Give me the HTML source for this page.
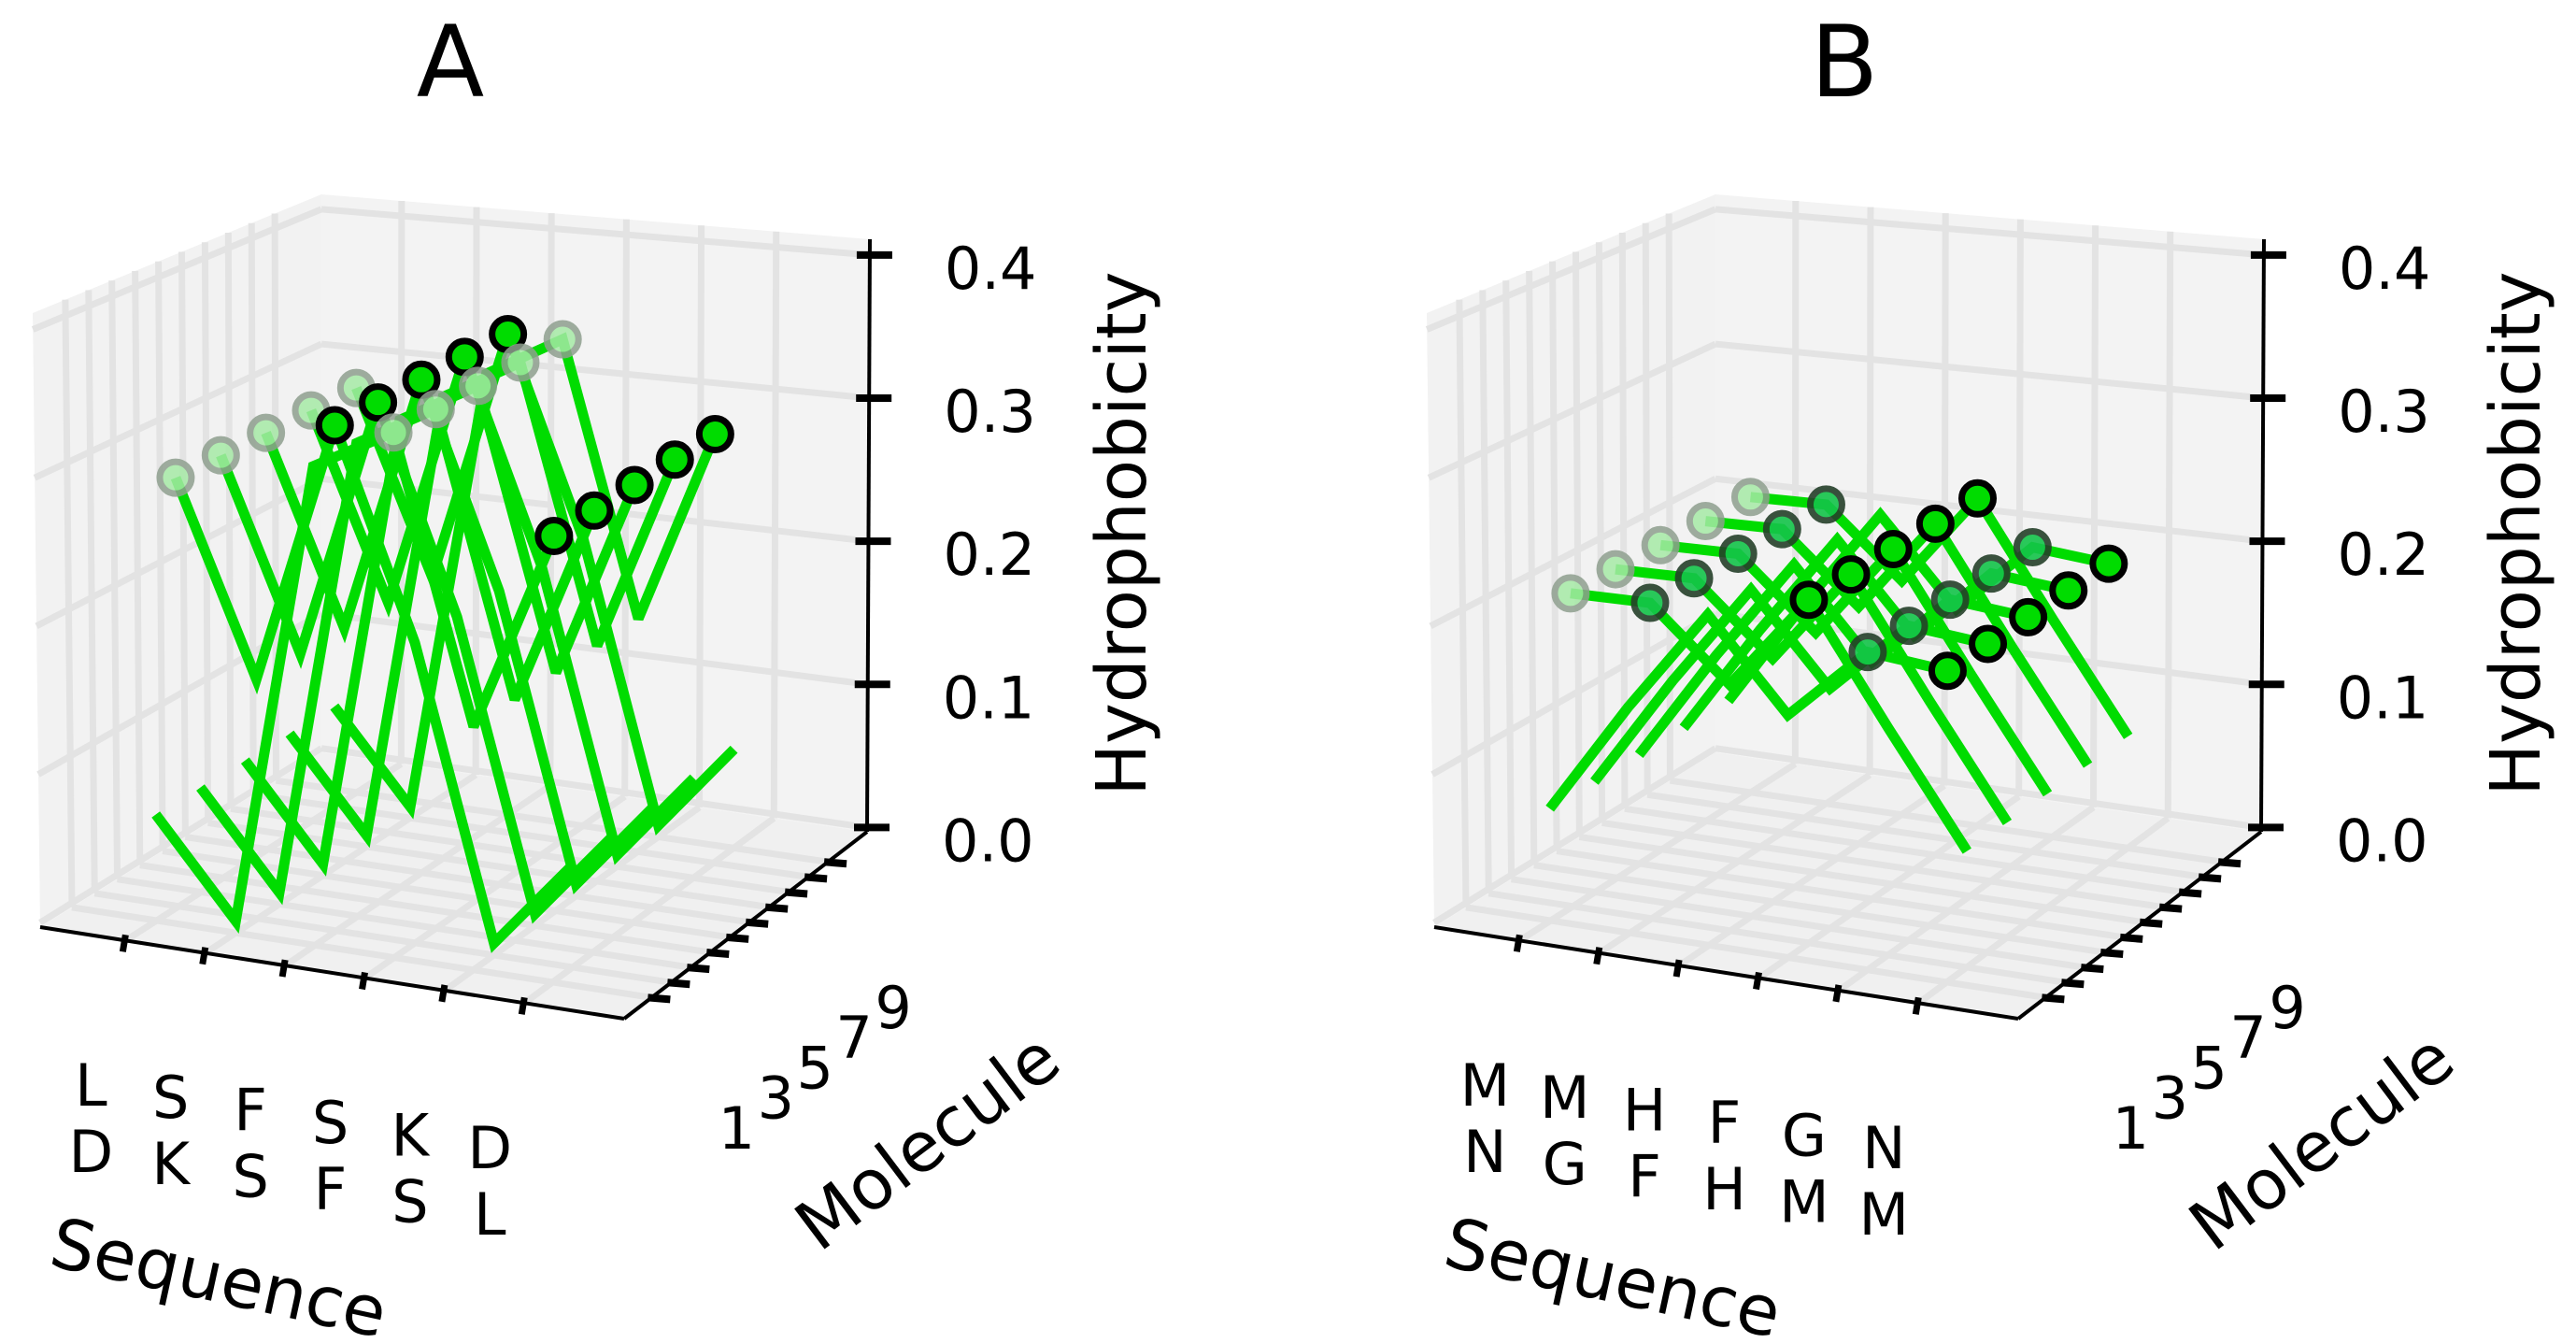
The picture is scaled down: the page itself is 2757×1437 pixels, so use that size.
<!DOCTYPE html>
<html><head><meta charset="utf-8"><style>
html,body{margin:0;padding:0;background:#fff;}
svg{display:block;font-family:"DejaVu Sans","Liberation Sans",sans-serif;}
</style></head><body>
<svg id="fig" width="2757" height="1437" viewBox="0 0 2757 1437" xmlns="http://www.w3.org/2000/svg"></svg>
<script>
// ---- data ----
const seqPositions = [1, 2, 3, 4, 5, 6];
const molecules = [1, 2, 3, 4, 5, 6, 7, 8, 9, 10];
const zTicks = [0.0, 0.1, 0.2, 0.3, 0.4];
const zTickLabels = ["0.0", "0.1", "0.2", "0.3", "0.4"];
const molTickLabels = ["1", "3", "5", "7", "9"];
const seqTopA = ["L", "S", "F", "S", "K", "D"];
const seqBotA = ["D", "K", "S", "F", "S", "L"];
const seqTopB = ["M", "M", "H", "F", "G", "N"];
const seqBotB = ["N", "G", "F", "H", "M", "M"];
// hydrophobicity per molecule parity across sequence positions
const hydroOddA = [0.069, 0.005, 0.32, 0.35, 0.16, 0.295];
const hydroEvenA = [0.29, 0.16, 0.34, 0.20, 0.005, 0.066];
const hydroOddB = [0.073, 0.15, 0.22, 0.16, 0.21, 0.205];
const hydroEvenB = [0.211, 0.212, 0.164, 0.229, 0.15, 0.075];
// marker kinds per position: 0 none, 1 faded, 2 semi, 3 solid
const markOddA = [0, 0, 0, 1, 0, 3];
const markEvenA = [1, 0, 3, 0, 0, 0];
const markOddB = [0, 0, 0, 0, 2, 3];
const markEvenB = [1, 2, 0, 3, 0, 0];

const NS = "http://www.w3.org/2000/svg";
const svg = document.getElementById('fig');
function mk(tag, attrs, parent) {
  const e = document.createElementNS(NS, tag);
  for (const k in attrs) e.setAttribute(k, attrs[k]);
  (parent || svg).appendChild(e);
  return e;
}
const X0 = -0.07, X1 = 7.25, M0 = -0.4, M1 = 12, Z0 = -0.003, Z1 = 0.411;
const C = {
  '000': [43, 992], '100': [668, 1090], '010': [344, 805], '110': [928, 890],
  '001': [35, 335], '101': [672, 420], '011': [344, 208], '111': [931, 256]
};
function tri(u, v, w, dx) {
  const r = [0, 0];
  for (let a = 0; a < 2; a++) for (let b = 0; b < 2; b++) for (let c = 0; c < 2; c++) {
    const wt = (a ? u : 1 - u) * (b ? v : 1 - v) * (c ? w : 1 - w);
    const p = C['' + a + b + c];
    r[0] += wt * p[0]; r[1] += wt * p[1];
  }
  r[0] += dx;
  return r;
}
const xs = x => (x - X0) / (X1 - X0);
const ms = m => (m - M0) / (M1 - M0);
const zs = z => (z - Z0) / (Z1 - Z0);

function panel(dx, title, seqTop, seqBot, hOdd, hEven, mOdd, mEven, id) {
  const g = mk('g', {});
  
  
  const P = (u, v, w) => tri(u, v, w, dx);
  const pts = a => a.map(p => p[0].toFixed(1) + ',' + p[1].toFixed(1)).join(' ');
  const floor = mk('polygon', {points: pts([P(0,0,0), P(1,0,0), P(1,1,0), P(0,1,0)]), fill: '#f0f0f0'}, g);
   
  const left = mk('polygon', {points: pts([P(0,0,0), P(0,1,0), P(0,1,1), P(0,0,1)]), fill: '#f2f2f2'}, g);
   
  const back = mk('polygon', {points: pts([P(0,1,0), P(1,1,0), P(1,1,1), P(0,1,1)]), fill: '#f3f3f3'}, g);
   
  const grid = mk('g', {stroke: '#e3e3e3', 'stroke-width': 7, fill: 'none'}, g);
   
  const ln = (a, b) => mk('line', {x1: a[0], y1: a[1], x2: b[0], y2: b[1]}, grid);
  seqPositions.forEach(x => { const u = xs(x); ln(P(u,1,0), P(u,1,1)); ln(P(u,0,0), P(u,1,0)); });
  molecules.forEach(m => { const v = ms(m); ln(P(0,v,0), P(0,v,1)); ln(P(0,v,0), P(1,v,0)); });
  zTicks.forEach(z => { const w = zs(z); ln(P(0,0,w), P(0,1,w)); ln(P(0,1,w), P(1,1,w)); });
  const ax = mk('g', {stroke: '#000', 'stroke-width': 4, fill: 'none'}, g);
   
  const al = (a, b, sw) => mk('line', {x1: a[0], y1: a[1], x2: b[0], y2: b[1], 'stroke-width': sw || 4}, ax);
  al(P(0,0,0), P(1,0,0)); al(P(1,0,0), P(1,1,0)); al(P(1,1,0), P(1,1,1));
  seqPositions.forEach(x => { const p = P(xs(x), 0, 0); al([p[0], p[1] - 6], [p[0] - 3, p[1] + 12], 7); });
  molecules.forEach(m => { const p = P(1, ms(m), 0); al([p[0] - 4, p[1]], [p[0] + 20, p[1] + 2], 8); });
  zTicks.forEach(z => { const p = P(1, 1, zs(z)); al([p[0] - 14, p[1]], [p[0] + 24, p[1]], 8); });
  const dl = mk('g', {}, g);
   
  const order = molecules.slice().reverse();
  order.forEach(m => {
    const h = (m % 2) ? hOdd : hEven;
    const ps = seqPositions.map((x, i) => P(xs(x), ms(m), zs(h[i])));
    const pl = mk('polyline', {points: pts(ps), fill: 'none', stroke: '#00dc00', 'stroke-width': 11, 'stroke-linejoin': 'miter', 'stroke-miterlimit': 3}, dl);
    
    
  });
  const mg = mk('g', {}, g);
   
  order.forEach(m => {
    const h = (m % 2) ? hOdd : hEven;
    const mm = (m % 2) ? mOdd : mEven;
    seqPositions.forEach((x, i) => {
      if (!mm[i]) return;
      const p = P(xs(x), ms(m), zs(h[i]));
      let at;
      if (mm[i] === 1) at = {fill: '#a6eaa6', stroke: '#8f9f8f', 'stroke-width': 7, opacity: 0.85};
      else if (mm[i] === 2) at = {fill: '#14c44a', stroke: '#25402a', 'stroke-width': 7, opacity: 0.9};
      else at = {fill: '#00dc00', stroke: '#000', 'stroke-width': 7};
      at.cx = p[0]; at.cy = p[1]; at.r = 17;
      const c = mk('circle', at, mg);
      
      
    });
  });
  const tx = (s, x, y, fs, extra, name) => {
    const t = mk('text', Object.assign({x: x, y: y, 'font-size': fs, fill: '#000'}, extra || {}), g);
    t.textContent = s;
    
    
    return t;
  };
  tx(title, 482 + dx, 103, 106, {'text-anchor': 'middle'}, 'panel-title');
  zTicks.forEach((z, i) => {
    const p = P(1, 1, zs(z));
    tx(zTickLabels[i], p[0] + 80, p[1] + 36, 62, {}, 'z-tick-label');
  });
  tx('Hydrophobicity', 0, 0, 74, {'text-anchor': 'middle', 'dominant-baseline': 'central', transform: 'translate(' + (1201 + dx) + ',571) rotate(-90)'}, 'z-axis-title');
  seqPositions.forEach((x, i) => {
    const p = P(xs(x), 0, 0);
    tx(seqTop[i], p[0] - 37, p[1] + 155, 62, {'text-anchor': 'middle', 'dominant-baseline': 'central'}, 'sequence-tick-label-top');
    tx(seqBot[i], p[0] - 37, p[1] + 226, 62, {'text-anchor': 'middle', 'dominant-baseline': 'central'}, 'sequence-tick-label-bottom');
  });
  [1, 3, 5, 7, 9].forEach((m, i) => {
    const p = P(1, ms(m), 0);
    tx(molTickLabels[i], p[0] + 91, p[1] + 140, 62, {'text-anchor': 'middle', 'dominant-baseline': 'central'}, 'molecule-tick-label');
  });
  tx('Sequence', 0, 0, 74, {'text-anchor': 'middle', 'dominant-baseline': 'central', transform: 'translate(' + (234 + dx) + ',1368) rotate(12.3)'}, 'x-axis-title');
  tx('Molecule', 0, 0, 74, {'text-anchor': 'middle', 'dominant-baseline': 'central', transform: 'translate(' + (993 + dx) + ',1222) rotate(-37)'}, 'y-axis-title');
}
panel(0, 'A', seqTopA, seqBotA, hydroOddA, hydroEvenA, markOddA, markEvenA, 'a');
panel(1492, 'B', seqTopB, seqBotB, hydroOddB, hydroEvenB, markOddB, markEvenB, 'b');
</script>
</body></html>
